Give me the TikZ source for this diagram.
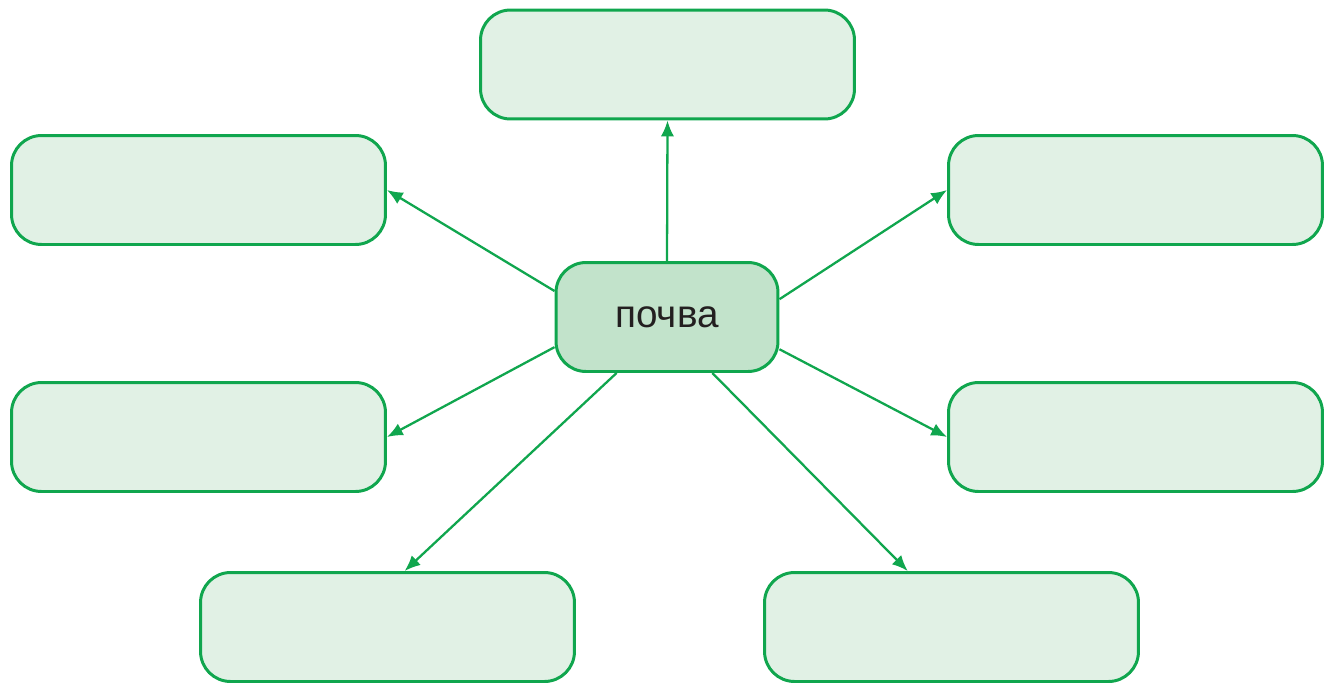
\documentclass[tikz,border=0pt]{standalone}
\usepackage{fontspec}
\newfontfamily\soilfont{Liberation Sans}
\usepackage{tikz}
\usetikzlibrary{calc,positioning,arrows.meta}
\definecolor{leafgreen}{RGB}{16,166,78}
\definecolor{paleleaf}{RGB}{225,241,229}
\definecolor{mintgreen}{RGB}{194,227,203}
\definecolor{inkgray}{RGB}{35,31,32}

\begin{document}
\begin{tikzpicture}[x=0.02cm,y=-0.02cm,
  box/.style={draw=leafgreen,line width=1.7pt,fill=paleleaf,rounded corners=0.6cm,
    minimum width=7.48cm,minimum height=2.18cm,inner sep=0pt},
  arr/.style={draw=leafgreen,line width=1.3pt,-{Latex[length=9pt,width=7.5pt]}}]
  \useasboundingbox (0,0) rectangle (1334,683);
  \foreach \n/\x/\y in {top/667.5/64.5,lu/198.5/190,ru/1135.5/190,ll/198.5/437,
      rl/1135.5/437,bl/387.5/627,br/951.5/627}{
    \node[box] (\n) at (\x,\y) {};
  }
  \node[box,fill=mintgreen,minimum width=4.44cm,text=inkgray,
    font=\soilfont\fontsize{22}{26}\selectfont] (soil) at (667,317) {почва};
  \foreach \a/\b in {north/top.south,167/lu.east,9/ru.west,195/ll.east,
      344/rl.west,228/bl.73,309/br.128}{
    \draw[arr] (soil.\a) -- (\b);
  }
\end{tikzpicture}
\end{document}
